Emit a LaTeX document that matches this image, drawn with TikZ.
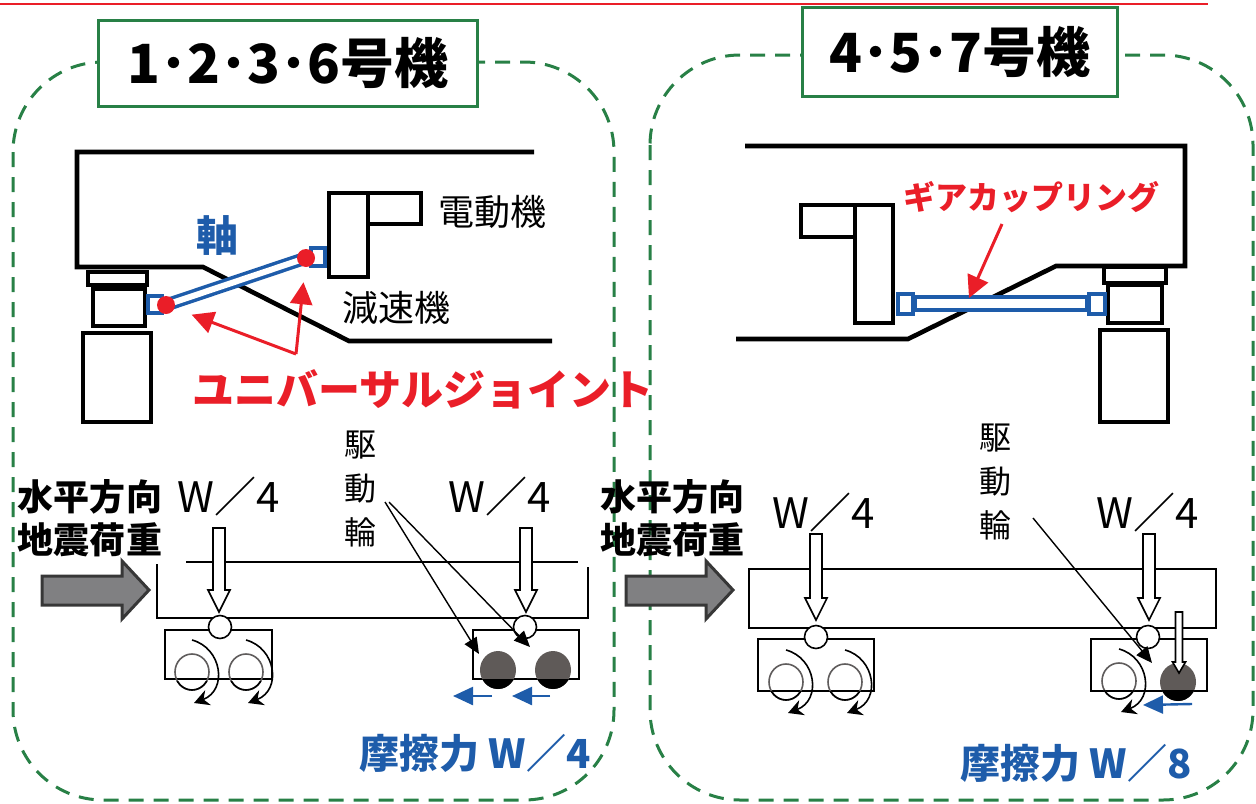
\documentclass[tikz,border=0pt]{standalone}
\usepackage{fontspec}
\setmainfont{Noto Sans CJK JP}
\usetikzlibrary{arrows.meta}
\definecolor{panelgreen}{RGB}{40,128,70}
\definecolor{ujred}{RGB}{234,30,40}
\definecolor{shaftblue}{RGB}{30,92,170}
\definecolor{quakegray}{RGB}{128,128,130}
\definecolor{quakeedge}{RGB}{55,55,55}
\definecolor{wheelgray}{RGB}{95,92,92}
\definecolor{wheeldark}{RGB}{95,90,88}
\tikzset{
  panel/.style={draw=panelgreen,line width=1.5pt,dash pattern=on 7.5pt off 5pt,rounded corners=45pt},
  titlebox/.style={draw=panelgreen,line width=1.5pt,fill=white,inner sep=0pt,font=\fontsize{27}{27}\selectfont\bfseries},
  frame/.style={line width=2.3pt},
  joint/.style={draw=shaftblue,line width=2.2pt,fill=white},
  ujdot/.style={circle,fill=ujred,minimum size=9pt,inner sep=0pt},
  redarrow/.style={draw=ujred,line width=1.5pt,-{Triangle[length=11pt,width=11pt]}},
  jtext/.style={font=\fontsize{18}{18}\selectfont},
  redtext/.style={text=ujred,font=\fontsize{21}{21}\selectfont\bfseries},
  seis/.style={align=center,font=\fontsize{18}{21.5}\selectfont\bfseries},
  quake/.style={fill=quakegray,draw=quakeedge,line width=1.5pt,line join=miter},
  body/.style={line width=0.8pt},
  hollow/.style={draw,fill=white,line width=0.8pt,line join=miter},
  pivot/.style={circle,draw,fill=white,line width=0.8pt,minimum size=11.5pt,inner sep=0pt},
  wtext/.style={font=\fontsize{21}{21}\selectfont},
  drvtext/.style={align=center,font=\fontsize{16}{22}\selectfont},
  drvarrow/.style={line width=0.7pt,-{Triangle[length=8pt,width=7pt]}},
  rotarr/.style={line width=0.8pt,-{Stealth[length=7.5pt,width=8pt]}},
  fricarr/.style={draw=shaftblue,line width=1.2pt,-{Triangle[length=10pt,width=9pt]}},
  fric/.style={text=shaftblue,font=\fontsize{20}{20}\selectfont\bfseries}
}
\begin{document}
\begin{tikzpicture}[x=0.5pt,y=-0.5pt]
\useasboundingbox (0,0) rectangle (1256,803);
\draw[ujred,line width=1pt] (0,4) -- (1208,4);

% two dashed panels with their titles
\draw[panel] (13,62) rectangle (614,800);
\draw[panel] (650,55) rectangle (1253,800);
\node[titlebox,minimum width=189.5pt,minimum height=43pt] (titleL) at (288,63) {1･2･3･6号機};
\node[titlebox,minimum width=157.5pt,minimum height=44.5pt] (titleR) at (960,52) {4･5･7号機};

% left: motor on body, universal joint shaft
\draw[frame] (534,152) -- (77,152) -- (77,267) -- (203,267) -- (349,341) -- (552,341);
\draw[frame] (88,272) rectangle (147,285);
\draw[frame] (93,289) rectangle (145,326);
\draw[frame] (83,333) rectangle (151,422);
\draw[frame] (329,193) rectangle (368,277);
\draw[frame] (368,193) rectangle (421,224);
\draw[joint] (311,248) rectangle (325,266);
\draw[joint] (148,296) rectangle (162,313);
\coordinate (shaftL) at (166,305);
\coordinate (shaftR) at (306,258);
\draw[shaftblue,line width=6.5pt] (shaftL) -- (shaftR);
\draw[white,line width=3pt] (shaftL) -- (shaftR);
\node[ujdot] (ujL) at (shaftL) {};
\node[ujdot] (ujR) at (shaftR) {};
\node[text=shaftblue,font=\fontsize{21}{21}\selectfont\bfseries] (axle) at (217,236) {軸};
\node[jtext] (motor) at (492,212) {電動機};
\node[jtext] (reducer) at (396,308) {減速機};
\coordinate (ujfork) at (296,354);
\draw[redarrow,shorten >=7.5pt] (ujfork) -- (ujR);
\draw[redarrow,shorten >=9pt] (ujfork) -- (ujL);
\node[redtext] (ujlbl) at (423,389) {ユニバーサルジョイント};

% right: motor on bogie, gear coupling
\draw[frame] (745,146) -- (1185,146) -- (1185,266) -- (1056,266) -- (908,339) -- (736,339);
\draw[frame] (855,205) rectangle (893,323);
\draw[frame] (801,205) rectangle (855,237);
\draw[frame] (1104,267) rectangle (1166,283);
\draw[frame] (1108,285) rectangle (1162,323);
\draw[frame] (1100,330) rectangle (1168,422);
\draw[joint,line width=1.6pt] (915,297) rectangle (1087,310);
\draw[joint] (898,294) rectangle (913,314);
\draw[joint] (1089,294) rectangle (1105,314);
\node[redtext,font=\fontsize{16}{16}\selectfont\bfseries] (gclbl) at (1031,197) {ギアカップリング};
\coordinate (gcfoot) at (1002,224);
\coordinate (gctip) at (969,298);
\draw[redarrow] (gcfoot) -- (gctip);

% seismic load arrows
\node[seis] (seisL) at (90,518) {水平方向\\地震荷重};
\node[seis] (seisR) at (672,518) {水平方向\\地震荷重};
\foreach \dx in {0,584}
  \draw[quake] (42+\dx,576) -- (122+\dx,576) -- (122+\dx,561) -- (149+\dx,590)
    -- (122+\dx,619) -- (122+\dx,605) -- (42+\dx,605) -- cycle;

% car bodies and bogies
\draw[body] (186,562) -- (578,562);
\draw[body] (157,564) -- (157,618) -- (588,618) -- (588,567);
\draw[body] (165,630) rectangle (272,679);
\draw[body] (473,630) rectangle (579,679);
\draw[body] (749,569) rectangle (1216,628);
\draw[body] (758,639) rectangle (874,691);
\draw[body] (1091,639) rectangle (1207,691);

% idle wheels with rotation
\foreach \cx/\cy in {192/672,246/672,786/682,845/682,1119/681}{
  \draw[wheelgray,line width=0.8pt] (\cx,\cy) ellipse [x radius=17,y radius=18];
  \begin{scope}
    \clip (\cx-20,\cy+9) rectangle (\cx+20,\cy+22);
    \draw[line width=0.8pt] (\cx,\cy) ellipse [x radius=17,y radius=18];
  \end{scope}
  \draw[rotarr] (\cx,\cy-32) .. controls (\cx+30,\cy-24) and (\cx+36,\cy+18) .. (\cx+2,\cy+31);
}

% driving wheels
\foreach \cx/\cy/\cut in {498/670/679,553/670/679,1178/682/690}{
  \fill[wheeldark] (\cx,\cy) ellipse [x radius=18,y radius=19];
  \begin{scope}
    \clip (\cx-20,\cut) rectangle (\cx+20,\cy+22);
    \fill (\cx,\cy) ellipse [x radius=18,y radius=19];
  \end{scope}
}

% axle loads
\node[pivot] (pivLL) at (220,627) {};
\node[pivot] (pivLR) at (525,627) {};
\node[pivot] (pivRL) at (816,637) {};
\node[pivot] (pivRR) at (1148,637) {};
\foreach \x in {219,526}
  \draw[hollow] (\x-6,528) -- (\x-6,590) -- (\x-11,590) -- (\x,612) -- (\x+11,590) -- (\x+6,590) -- (\x+6,528) -- cycle;
\foreach \x in {816,1149}
  \draw[hollow] (\x-6,534) -- (\x-6,598) -- (\x-11,598) -- (\x,620) -- (\x+11,598) -- (\x+6,598) -- (\x+6,534) -- cycle;
\draw[hollow] (1175.5,612) -- (1175.5,662) -- (1172.5,662) -- (1179,673) -- (1185.5,662) -- (1182.5,662) -- (1182.5,612) -- cycle;
\node[wtext] (wLL) at (229,497) {W／4};
\node[wtext] (wLR) at (500,497) {W／4};
\node[wtext] (wRL) at (824,513) {W／4};
\node[wtext] (wRR) at (1148,513) {W／4};

% driving wheel pointers
\node[drvtext] (drvL) at (360,489) {駆\\動\\輪};
\node[drvtext] (drvR) at (995,482) {駆\\動\\輪};
\coordinate (drvLa) at (385,502);
\coordinate (drvLb) at (389,502);
\coordinate (drvRa) at (1033,518);
\coordinate (whlL1) at (479,654);
\coordinate (whlL2) at (530,647);
\coordinate (whlR) at (1152,663);
\draw[drvarrow] (drvLa) -- (whlL1);
\draw[drvarrow] (drvLb) -- (whlL2);
\draw[drvarrow] (drvRa) -- (whlR);

% friction
\draw[fricarr] (492,696) -- (453,696);
\draw[fricarr] (550,696) -- (512,696);
\draw[fricarr] (1192,704) -- (1143,705);
\node[fric] (fricL) at (475,753) {摩擦力 W／4};
\node[fric] (fricR) at (1076,763) {摩擦力 W／8};
\end{tikzpicture}
\end{document}
